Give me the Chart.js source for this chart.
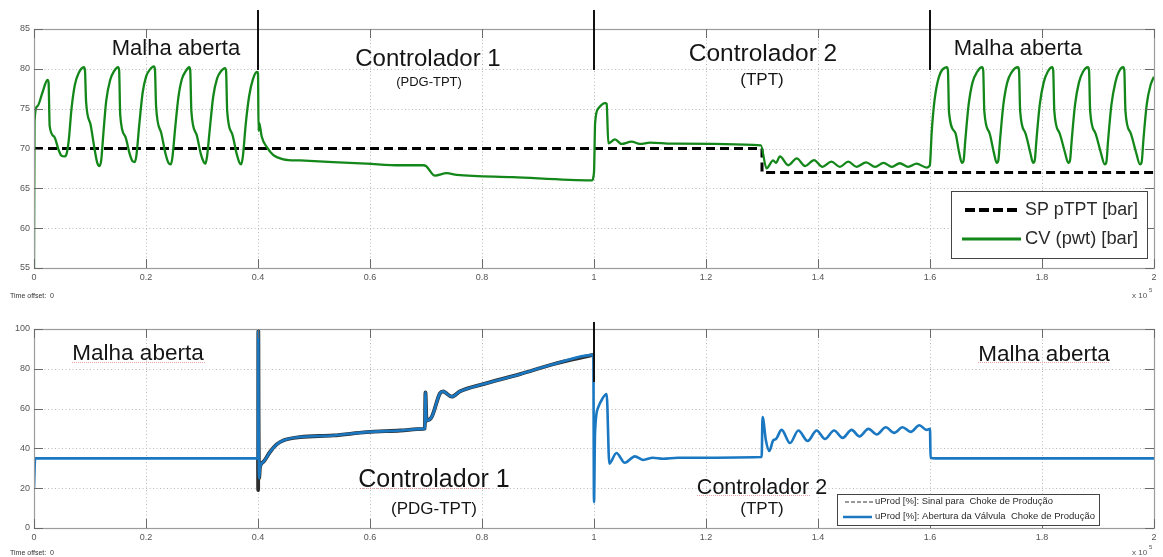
<!DOCTYPE html>
<html>
<head>
<meta charset="utf-8">
<script src="https://cdn.jsdelivr.net/npm/chart.js@4.4.1/dist/chart.umd.min.js"></script>
<style>
  html, body { margin: 0; padding: 0; background: #fff; width: 1163px; height: 557px; overflow: hidden; }
  canvas { position: absolute; left: 0; }
  #cTop { top: 0; }
  #cBot { top: 300px; }
</style>
</head>
<body>
<canvas id="cTop" width="1163" height="300"></canvas>
<canvas id="cBot" width="1163" height="257"></canvas>
<script>
// ---- dados (tempo em unidades de 1e5 s) ----
const xTicks = [0, 0.2, 0.4, 0.6, 0.8, 1, 1.2, 1.4, 1.6, 1.8, 2];
const xTickLabels = ["0", "0.2", "0.4", "0.6", "0.8", "1", "1.2", "1.4", "1.6", "1.8", "2"];
const topYTicks = [55, 60, 65, 70, 75, 80, 85];
const botYTicks = [0, 20, 40, 60, 80, 100];

// SP pTPT [bar]
const spTime  = [0, 1.3, 1.3, 2];
const spValue = [70, 70, 67, 67];

// CV (pwt) [bar]
const cvTime = [
  0, 0.001, 0.006, 0.015, 0.024, 0.026, 0.028, 0.036, 0.044, 0.049, 0.054, 0.058,
  0.062, 0.067, 0.073, 0.080, 0.089, 0.091, 0.093, 0.101, 0.108, 0.113, 0.117, 0.120,
  0.124, 0.129, 0.136, 0.143, 0.150, 0.152, 0.154, 0.163, 0.171, 0.176, 0.180, 0.183,
  0.188, 0.194, 0.200, 0.207, 0.214, 0.216, 0.218, 0.227, 0.235, 0.240, 0.244, 0.247,
  0.252, 0.258, 0.264, 0.271, 0.277, 0.279, 0.281, 0.290, 0.298, 0.303, 0.306, 0.309,
  0.314, 0.320, 0.327, 0.334, 0.341, 0.343, 0.345, 0.354, 0.362, 0.367, 0.370, 0.373,
  0.378, 0.384, 0.391, 0.398, 0.400, 0.401, 0.402, 0.404, 0.4066, 0.4155, 0.427, 0.445,
  0.475, 0.534, 0.594, 0.654, 0.695, 0.700, 0.716, 0.737, 0.755, 0.855, 0.996, 1.000,
  1.002, 1.008, 1.020, 1.0226, 1.0256, 1.0375, 1.049, 1.067, 1.082, 1.100, 1.140, 1.298,
  1.308, 1.320, 1.325, 1.332, 1.347, 1.362, 1.377, 1.393, 1.408, 1.424, 1.439, 1.454,
  1.469, 1.486, 1.502, 1.517, 1.532, 1.546, 1.561, 1.576, 1.594, 1.599,
  1.600, 1.603, 1.608, 1.616, 1.630, 1.632, 1.634, 1.645, 1.652, 1.657, 1.660,
  1.663, 1.669, 1.676, 1.684, 1.693, 1.695, 1.697, 1.706, 1.714, 1.719, 1.722,
  1.725, 1.731, 1.738, 1.746, 1.757, 1.759, 1.761, 1.770, 1.779, 1.784, 1.787,
  1.790, 1.796, 1.803, 1.810, 1.818, 1.820, 1.822, 1.831, 1.841, 1.847, 1.850,
  1.853, 1.859, 1.866, 1.873, 1.882, 1.884, 1.886, 1.895, 1.905, 1.912, 1.915,
  1.918, 1.924, 1.931, 1.937, 1.945, 1.947, 1.949, 1.958, 1.968, 1.975, 1.978,
  1.981, 1.987, 1.994, 2.000
];
const cvValue = [
  55, 73.5, 75.3, 77, 78.6, 78.3, 72.8, 71.5, 69.8, 69.1, 69.0, 69.3,
  71, 75, 78, 79.5, 80.2, 79.8, 75.9, 73, 70, 68.2, 67.8, 68.5,
  72, 76, 78.6, 79.7, 80.2, 79.8, 74.2, 71.5, 69.3, 68.4, 68.3, 69.2,
  73, 77, 79, 79.9, 80.3, 79.9, 75.3, 72, 69.3, 68.2, 68.0, 68.8,
  72.5, 76.5, 78.7, 79.7, 80.2, 79.8, 74.7, 71.8, 69.3, 68.3, 68.1, 69,
  72.5, 76.5, 78.8, 79.7, 80.1, 79.7, 74.7, 71.8, 69.3, 68.2, 68.0, 69,
  73, 76.5, 78.7, 79.6, 79.4, 72.2, 73.2, 72.6, 71.5, 70.2, 69.2, 68.65,
  68.5, 68.3, 68.1, 67.9, 67.9, 67.8, 66.6, 66.9, 66.7, 66.4, 66.0, 67,
  73.2, 75.05, 75.7, 75.6, 70.65, 71.15, 70.57, 70.86, 70.57, 70.73, 70.6, 70.4,
  67.5, 68.5, 68.2, 69.0, 67.9, 68.75, 67.8, 68.55, 67.7, 68.35, 67.7, 68.35,
  67.7, 68.27, 67.7, 68.2, 67.7, 68.15, 67.7, 68.1, 67.6, 67.8,
  68, 72, 76, 79, 80.2, 79.8, 74.5, 72, 69.5, 68.2, 68.5,
  71, 75.5, 78.3, 79.6, 80.2, 79.8, 74.7, 72, 69.5, 68.2, 68.5,
  71, 75.5, 78.3, 79.6, 80.2, 79.8, 74.7, 72, 69.5, 68.2, 68.5,
  71, 75.5, 78.3, 79.6, 80.2, 79.8, 74.7, 72, 69.5, 68.2, 68.5,
  71, 75.5, 78.3, 79.6, 80.2, 79.8, 74.7, 72, 69.5, 68.0, 68.3,
  71, 75.5, 78.3, 79.6, 80.2, 79.8, 74.7, 72, 69.5, 68.0, 68.3,
  71, 75.5, 78, 79.0
];

// uProd [%]: Abertura da Válvula Choke de Produção
const aberturaTime = [
  0, 0.002, 0.400, 0.4005, 0.401, 0.402, 0.4036, 0.4095, 0.4214, 0.4333, 0.445, 0.475,
  0.5345, 0.594, 0.6536, 0.695, 0.698, 0.699, 0.701, 0.710, 0.725, 0.731, 0.734, 0.746,
  0.761, 0.8024, 0.868, 0.927, 0.9988, 1.000, 1.0018, 1.0077, 1.015, 1.0226, 1.0274,
  1.040, 1.055, 1.073, 1.088, 1.105, 1.123, 1.150, 1.2994, 1.301, 1.307, 1.313, 1.320,
  1.325, 1.335, 1.350, 1.365, 1.3815, 1.3976, 1.4125, 1.4286, 1.444, 1.460, 1.474,
  1.490, 1.505, 1.521, 1.536, 1.551, 1.5655, 1.581, 1.594, 1.600, 1.601, 1.610, 2.000
];
const aberturaValue = [
  20, 35, 35, 99, 60, 25, 30.7, 33.2, 38.2, 42, 44, 45.7,
  46.5, 48.2, 49, 49.8, 50, 68.2, 54, 55.7, 67.7, 68.7, 68.2, 66,
  68.7, 72.3, 77.3, 82.3, 87, 13, 47.5, 60.7, 65, 67.3, 32.3,
  37.7, 32.8, 36, 34.2, 35.3, 34.8, 35.3, 35.7, 55.7, 44, 38.7, 44,
  44.7, 49.3, 42.7, 49, 43.7, 49, 44.8, 49, 45.3, 49.3, 46,
  49.8, 47, 50.6, 47.8, 50.6, 48.3, 51.6, 49.3, 49.8, 35.3, 35, 35
];

// uProd [%]: Sinal para Choke de Produção (visível só no Controlador 1)
const sinalTime = [
  0.400, 0.4003, 0.4006, 0.401, 0.402, 0.4036, 0.4095, 0.4214, 0.4333, 0.445, 0.475,
  0.5345, 0.594, 0.6536, 0.695, 0.698, 0.699, 0.701, 0.710, 0.725, 0.731, 0.734, 0.746,
  0.761, 0.8024, 0.868, 0.927, 0.9988
];
const sinalValue = [
  35, 19, 99, 60, 25, 30.7, 33.2, 38.2, 42, 44, 45.7,
  46.5, 48.2, 49, 49.8, 50, 68.2, 54, 55.7, 67.7, 68.7, 68.2, 66,
  68.7, 72.3, 77.3, 82.3, 87
];

const toXY = (t, v) => t.map((x, i) => ({ x, y: v[i] }));

const FONT = '"Liberation Sans", Arial, sans-serif';
const GREEN = "#14871a";
const BLUE = "#1a78c2";

function fitText(ctx, s, x, y, w, font, color){
  ctx.save();
  ctx.font = font;
  ctx.fillStyle = color;
  ctx.textBaseline = "middle";
  ctx.textAlign = "left";
  const m = ctx.measureText(s).width;
  ctx.translate(x, y);
  ctx.scale(w / m, 1);
  ctx.fillText(s, 0, 0);
  ctx.restore();
}

function decor(opt){
  return {
    id: "decor",
    beforeDatasetsDraw(chart){
      const { ctx, chartArea: a, scales } = chart;
      ctx.save();
      ctx.strokeStyle = "#b8b8b8";
      ctx.lineWidth = 1;
      ctx.setLineDash([1, 2.5]);
      xTicks.slice(1, -1).forEach(v => {
        const px = Math.round(scales.x.getPixelForValue(v)) + 0.5;
        ctx.beginPath(); ctx.moveTo(px, a.top); ctx.lineTo(px, a.bottom); ctx.stroke();
      });
      opt.yTicks.slice(1, -1).forEach(v => {
        const py = Math.round(scales.y.getPixelForValue(v)) + 0.5;
        ctx.beginPath(); ctx.moveTo(a.left, py); ctx.lineTo(a.right, py); ctx.stroke();
      });
      ctx.restore();
    },
    afterDraw(chart){
      const { ctx, chartArea: a, scales } = chart;
      ctx.save();
      // moldura e marcas de escala
      ctx.strokeStyle = "#9c9c9c";
      ctx.lineWidth = 1.2;
      ctx.strokeRect(a.left + 0.5, a.top + 0.5, a.right - a.left, a.bottom - a.top);
      ctx.strokeStyle = "#6a6a6a";
      ctx.lineWidth = 1;
      xTicks.forEach(v => {
        const px = Math.round(scales.x.getPixelForValue(v)) + 0.5;
        ctx.beginPath();
        ctx.moveTo(px, a.bottom); ctx.lineTo(px, a.bottom - 9);
        ctx.moveTo(px, a.top); ctx.lineTo(px, a.top + 9);
        ctx.stroke();
      });
      opt.yTicks.forEach(v => {
        const py = Math.round(scales.y.getPixelForValue(v)) + 0.5;
        ctx.beginPath();
        ctx.moveTo(a.left, py); ctx.lineTo(a.left + 9, py);
        ctx.moveTo(a.right, py); ctx.lineTo(a.right - 9, py);
        ctx.stroke();
      });
      // separadores das fases
      ctx.strokeStyle = "#111";
      ctx.lineWidth = 2;
      opt.separators.forEach(s => {
        const px = Math.round(scales.x.getPixelForValue(s.x));
        ctx.beginPath(); ctx.moveTo(px, s.y1); ctx.lineTo(px, s.y2); ctx.stroke();
      });
      // sublinhados do corretor
      ctx.strokeStyle = "rgba(215,90,90,0.55)";
      ctx.lineWidth = 1;
      ctx.setLineDash([1, 1]);
      (opt.underlines || []).forEach(u => {
        ctx.beginPath(); ctx.moveTo(u[0], u[2] + 0.5); ctx.lineTo(u[1], u[2] + 0.5); ctx.stroke();
      });
      ctx.setLineDash([]);
      // textos das fases
      ctx.fillStyle = "#151515";
      ctx.textBaseline = "alphabetic";
      ctx.textAlign = "center";
      opt.labels.forEach(l => {
        ctx.font = l.size + "px " + FONT;
        ctx.fillText(l.text, l.x, l.y);
      });
      // legenda
      const L = opt.legend;
      ctx.fillStyle = "#fff";
      ctx.fillRect(L.x, L.y, L.w, L.h);
      ctx.strokeStyle = "#444";
      ctx.lineWidth = 1;
      ctx.strokeRect(L.x + 0.5, L.y + 0.5, L.w, L.h);
      L.items.forEach(it => {
        ctx.strokeStyle = it.color;
        ctx.lineWidth = it.width;
        ctx.setLineDash(it.dash || []);
        ctx.beginPath(); ctx.moveTo(it.x1, it.y); ctx.lineTo(it.x2, it.y); ctx.stroke();
        ctx.setLineDash([]);
        fitText(ctx, it.text, it.tx, it.y, it.tw, it.font, "#2a2a2a");
      });
      // rodapé
      ctx.fillStyle = "#333";
      ctx.textAlign = "left";
      ctx.font = "7px " + FONT;
      ctx.fillText("Time offset:  0", 10, opt.footY);
      ctx.fillStyle = "#555";
      ctx.font = "8px " + FONT;
      ctx.fillText("x 10", 1132, opt.footY);
      ctx.font = "6px " + FONT;
      ctx.fillText("5", 1149, opt.footY - 6);
      ctx.restore();
    }
  };
}

function axes(yTicks, xHeight){
  const tickFont = { family: FONT, size: 9 };
  return {
    x: {
      type: "linear", min: 0, max: 2,
      afterBuildTicks: s => { s.ticks = xTicks.map(v => ({ value: v })); },
      afterFit: s => { s.height = xHeight; },
      grid: { display: false, drawTicks: false },
      border: { display: false },
      ticks: { font: tickFont, color: "#555", padding: 4, maxRotation: 0, autoSkip: false,
               callback: (v, i) => xTickLabels[i] }
    },
    y: {
      type: "linear", min: yTicks[0], max: yTicks[yTicks.length - 1],
      afterBuildTicks: s => { s.ticks = yTicks.map(v => ({ value: v })); },
      afterFit: s => { s.width = 34; },
      grid: { display: false, drawTicks: false },
      border: { display: false },
      ticks: { font: tickFont, color: "#555", padding: 4, autoSkip: false }
    }
  };
}

const common = {
  responsive: false,
  animation: false,
  events: [],
  elements: { point: { radius: 0 }, line: { tension: 0, borderJoinStyle: "round" } },
  plugins: { legend: { display: false }, tooltip: { enabled: false } }
};

new Chart(document.getElementById("cTop"), {
  type: "line",
  data: {
    datasets: [
      { label: "CV (pwt) [bar]", data: toXY(cvTime, cvValue), borderColor: GREEN, borderWidth: 2.3,
        cubicInterpolationMode: "monotone", order: 0 },
      { label: "SP pTPT [bar]", data: toXY(spTime, spValue), borderColor: "#000", borderWidth: 3, borderDash: [9, 5], order: 1 }
    ]
  },
  options: {
    ...common,
    layout: { padding: { top: 29, right: 9, left: 0, bottom: 0 } },
    scales: axes(topYTicks, 32)
  },
  plugins: [decor({
    yTicks: topYTicks,
    footY: 298,
    separators: [{ x: 0.4, y1: 10, y2: 70 }, { x: 1.0, y1: 10, y2: 70 }, { x: 1.6, y1: 10, y2: 70 }],
    labels: [
      { text: "Malha aberta", x: 176, y: 55, size: 22 },
      { text: "Controlador 1", x: 428, y: 66, size: 24 },
      { text: "(PDG-TPT)", x: 429, y: 86, size: 13 },
      { text: "Controlador 2", x: 763, y: 61, size: 24.5 },
      { text: "(TPT)", x: 762, y: 85, size: 17 },
      { text: "Malha aberta", x: 1018, y: 55, size: 22 }
    ],
    legend: {
      x: 951, y: 191, w: 196, h: 67,
      items: [
        { text: "SP pTPT [bar]", color: "#000", width: 4, dash: [10, 4], x1: 965, x2: 1021, y: 210, tx: 1025, tw: 113, font: "18px " + FONT },
        { text: "CV (pwt) [bar]", color: GREEN, width: 3, x1: 962, x2: 1021, y: 239, tx: 1025, tw: 113, font: "18px " + FONT }
      ]
    }
  })]
});

new Chart(document.getElementById("cBot"), {
  type: "line",
  data: {
    datasets: [
      { label: "uProd [%]: Abertura da Válvula  Choke de Produção", data: toXY(aberturaTime, aberturaValue), borderColor: BLUE, borderWidth: 2.6,
        cubicInterpolationMode: "monotone", order: 0 },
      { label: "uProd [%]: Sinal para  Choke de Produção", data: toXY(sinalTime, sinalValue), borderColor: "rgba(10,10,10,0.85)", borderWidth: 3.8,
        cubicInterpolationMode: "monotone", order: 1 }
    ]
  },
  options: {
    ...common,
    layout: { padding: { top: 29, right: 9, left: 0, bottom: 0 } },
    scales: axes(botYTicks, 29)
  },
  plugins: [decor({
    yTicks: botYTicks,
    footY: 255,
    separators: [{ x: 1.0, y1: 22, y2: 82 }],
    underlines: [[72, 205, 62], [360, 490, 188], [697, 810, 195], [978, 1110, 62]],
    labels: [
      { text: "Malha aberta", x: 138, y: 60, size: 22.5 },
      { text: "Controlador 1", x: 434, y: 187, size: 25 },
      { text: "(PDG-TPT)", x: 434, y: 214, size: 17 },
      { text: "Controlador 2", x: 762, y: 194, size: 21.5 },
      { text: "(TPT)", x: 762, y: 214, size: 17 },
      { text: "Malha aberta", x: 1044, y: 61, size: 22.5 }
    ],
    legend: {
      x: 837, y: 194, w: 262, h: 31,
      items: [
        { text: "uProd [%]: Sinal para  Choke de Produção", color: "#333", width: 1, dash: [4, 2], x1: 845, x2: 873, y: 202, tx: 875, tw: 178, font: "9px " + FONT },
        { text: "uProd [%]: Abertura da Válvula  Choke de Produção", color: BLUE, width: 2.5, x1: 843, x2: 872, y: 217, tx: 875, tw: 220, font: "9px " + FONT }
      ]
    }
  })]
});
</script>
</body>
</html>
